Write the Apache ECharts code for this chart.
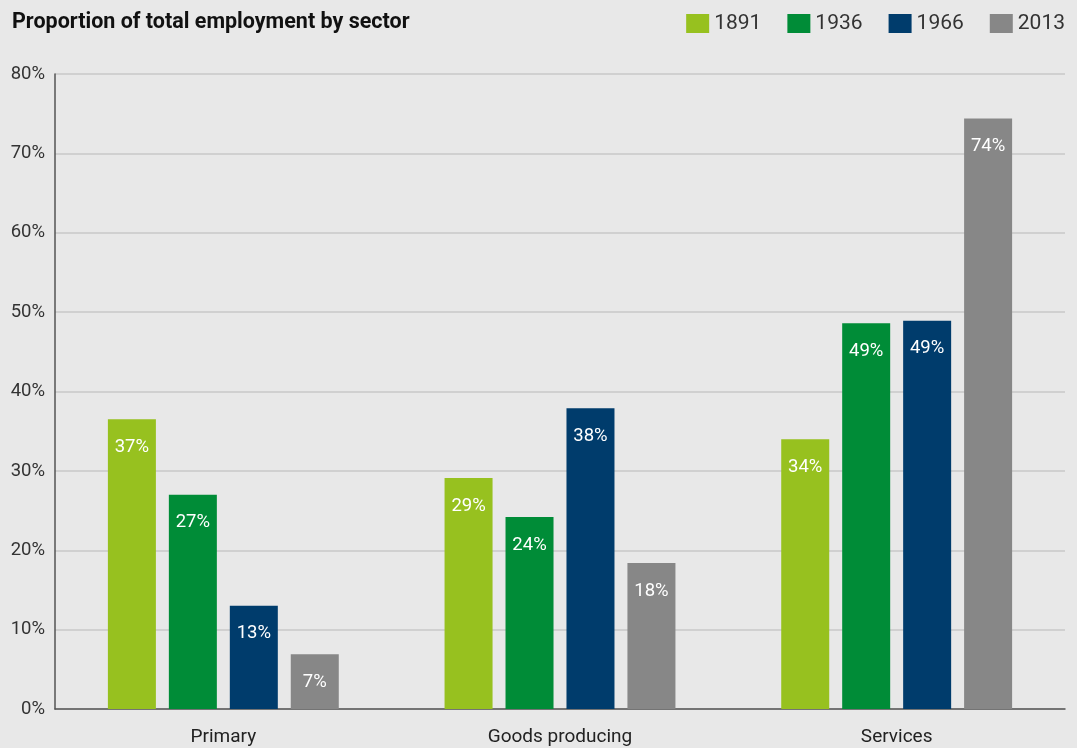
<!DOCTYPE html>
<html><head><meta charset="utf-8">
<script src="https://cdn.jsdelivr.net/npm/echarts@6/dist/echarts.min.js"></script>
<style>html,body{margin:0;padding:0;background:#e8e8e8;}#c{width:1077px;height:748px;}</style>
</head><body><div id="c"></div>
<script>
const categories = ['Primary', 'Goods producing', 'Services'];
const years = ['1891', '1936', '1966', '2013'];
const v1891 = [36.5, 29.1, 34.0];
const v1936 = [27.0, 24.2, 48.6];
const v1966 = [13.0, 37.9, 48.9];
const v2013 = [6.9, 18.4, 74.4];
const colors = ['#97c11f', '#008c37', '#003c6c', '#878787'];
const seriesData = [v1891, v1936, v1966, v2013];

const chart = echarts.init(document.getElementById('c'));
chart.setOption({
  backgroundColor: '#e8e8e8',
  animation: false,
  title: {
    text: 'Proportion of total employment by sector',
    left: 7, top: 7,
    textStyle: { fontFamily: 'Roboto', fontWeight: 'bold', fontSize: 21.5, color: '#111' }
  },
  legend: {
    right: 7, top: 8,
    itemWidth: 23, itemHeight: 19, itemGap: 26,
    textStyle: { fontFamily: 'Roboto', fontSize: 21, color: '#333' },
    data: years.map(y => ({ name: y, icon: 'rect' }))
  },
  grid: { left: 55, right: 12, top: 74, bottom: 39 },
  xAxis: {
    type: 'category', data: categories,
    axisLine: { lineStyle: { color: '#555', width: 1.5 } },
    axisTick: { show: false },
    axisLabel: { fontFamily: 'Roboto', fontSize: 19, color: '#222', margin: 19 }
  },
  yAxis: {
    type: 'value', min: 0, max: 80, interval: 10,
    axisLine: { show: true, lineStyle: { color: '#555', width: 1.5 } },
    axisTick: { show: false },
    splitLine: { lineStyle: { color: '#c8c8c8', width: 1.5 } },
    axisLabel: { formatter: '{value}%', fontFamily: 'Roboto', fontSize: 18.5, color: '#333', margin: 10 }
  },
  series: years.map((y, i) => ({
    name: y, type: 'bar', data: seriesData[i],
    barWidth: 48, barGap: '27%',
    itemStyle: { color: colors[i] },
    label: {
      show: true, position: 'insideTop', distance: 18.5,
      formatter: p => Math.round(p.value) + '%',
      fontFamily: 'Roboto', fontSize: 18.5, color: '#fff'
    }
  }))
});
</script></body></html>
